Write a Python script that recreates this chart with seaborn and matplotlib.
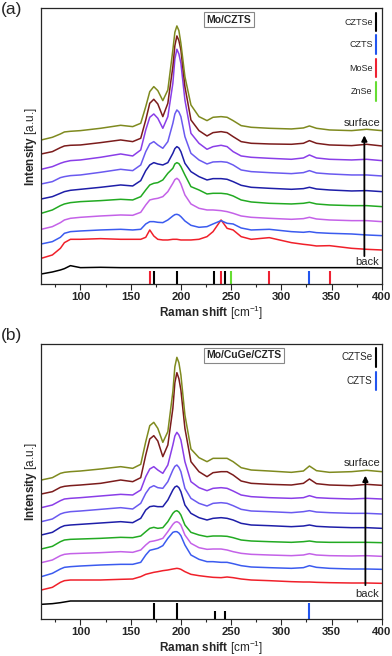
import numpy as np
import pandas as pd
import matplotlib.pyplot as plt
import seaborn as sns
from matplotlib.ticker import MultipleLocator

sns.set_style("ticks")
plt.rcParams['font.family'] = ['Liberation Sans', 'DejaVu Sans']
plt.rcParams['mathtext.fontset'] = 'custom'
plt.rcParams['mathtext.rm'] = 'Liberation Sans'
plt.rcParams['mathtext.bf'] = 'Liberation Sans:bold'

# Raman shift grid (cm-1) where the spectra were read
shift = [61, 72, 80, 84, 90, 100, 120, 140, 152, 160, 165, 169, 173, 177, 182, 187, 192, 194, 196, 198, 200,
         204, 210, 218, 226, 232, 240, 246, 252, 260, 270, 288, 310, 322, 328, 335, 348, 370, 385, 400]

scans = ['back', 's2', 's3', 's4', 's5', 's6', 's7', 's8', 's9', 'surface']
colors = ['black', '#f0202a', '#3b5bef', '#c462e8', '#22aa22', '#1e1ea8', '#6a5af0', '#8a3ee8', '#7b1c1c', '#7f8a1f']

# (a) Mo/CZTS, stacked intensities (a.u.), back -> surface
a_back = [30, 36, 42, 46, 55, 49, 50, 49, 49, 49, 49, 49, 49, 49, 49, 49, 49, 49, 49, 49, 49,
          49, 49, 49, 49, 49, 49, 49, 49, 49, 49, 49, 49, 49, 49, 49, 49, 49, 49, 48]
a_s2 = [77, 87, 107, 124, 134, 134, 136, 134, 134, 134, 140, 162, 144, 134, 132, 132, 134, 134, 134, 133, 132,
        132, 132, 134, 142, 157, 192, 167, 162, 142, 134, 139, 124, 119, 117, 114, 115, 107, 104, 102]
a_s3 = [120, 127, 140, 152, 157, 159, 162, 164, 162, 164, 180, 187, 187, 185, 184, 192, 204, 208, 209, 207, 202,
        189, 176, 170, 172, 180, 190, 182, 180, 168, 162, 164, 157, 155, 157, 154, 152, 150, 147, 145]
a_s4 = [164, 172, 184, 192, 197, 200, 204, 207, 206, 215, 237, 252, 255, 257, 262, 277, 302, 313, 317, 312, 300,
        267, 240, 227, 222, 222, 220, 217, 212, 204, 200, 197, 194, 196, 200, 195, 192, 190, 190, 187]
a_s5 = [212, 222, 235, 240, 244, 247, 250, 254, 252, 262, 282, 297, 302, 304, 312, 332, 347, 360, 364, 361, 352,
        327, 292, 282, 270, 272, 272, 270, 264, 252, 246, 242, 240, 242, 245, 240, 237, 235, 235, 232]
a_s6 = [255, 262, 272, 277, 281, 284, 290, 297, 294, 310, 340, 357, 364, 360, 357, 364, 392, 406, 412, 408, 397,
        362, 337, 322, 312, 316, 316, 314, 307, 296, 290, 287, 284, 286, 290, 285, 282, 279, 280, 277]
a_s7 = [300, 307, 319, 322, 325, 327, 335, 344, 340, 357, 397, 420, 427, 417, 407, 427, 482, 510, 522, 516, 502,
        442, 392, 372, 360, 366, 367, 365, 357, 342, 337, 334, 331, 334, 340, 333, 330, 327, 327, 324]
a_s8 = [344, 352, 362, 366, 370, 372, 380, 390, 384, 402, 462, 500, 510, 497, 467, 502, 602, 675, 704, 690, 662,
        552, 452, 422, 404, 412, 416, 412, 397, 384, 380, 377, 374, 378, 387, 378, 374, 372, 374, 370]
a_s9 = [390, 397, 409, 414, 416, 417, 424, 432, 427, 437, 492, 542, 554, 540, 502, 542, 652, 715, 744, 730, 702,
        592, 492, 460, 444, 454, 457, 454, 442, 427, 422, 420, 419, 422, 430, 422, 417, 415, 419, 414]
a_surface = [432, 440, 450, 456, 458, 460, 467, 476, 472, 482, 532, 577, 592, 580, 550, 582, 702, 755, 774, 760, 722,
             622, 537, 502, 490, 500, 502, 500, 490, 475, 470, 467, 465, 468, 474, 467, 462, 460, 464, 460]

# (b) Mo/CuGe/CZTS
b_back = [45, 47, 50, 52, 55, 55, 55, 55, 55, 55, 55, 55, 55, 55, 55, 55, 55, 55, 55, 55, 55,
          55, 55, 55, 55, 55, 55, 55, 55, 55, 55, 55, 55, 55, 55, 55, 55, 55, 55, 55]
b_s2 = [88, 96, 111, 116, 118, 118, 118, 120, 121, 128, 135, 138, 141, 143, 146, 148, 151, 152, 153, 152, 150,
        143, 135, 131, 128, 126, 125, 127, 125, 121, 118, 116, 113, 112, 112, 111, 110, 109, 109, 108]
b_s3 = [128, 138, 151, 156, 158, 160, 163, 165, 165, 171, 193, 207, 210, 213, 221, 243, 261, 263, 263, 259, 251,
        223, 193, 180, 173, 173, 171, 171, 167, 161, 157, 155, 153, 155, 161, 156, 153, 151, 151, 150]
b_s4 = [170, 178, 191, 195, 197, 198, 200, 203, 201, 208, 223, 233, 235, 238, 243, 263, 285, 291, 293, 290, 283,
        253, 228, 215, 210, 211, 211, 208, 203, 198, 195, 193, 191, 193, 197, 193, 191, 190, 191, 189]
b_s5 = [211, 219, 233, 238, 240, 241, 243, 246, 245, 250, 263, 273, 276, 273, 275, 293, 318, 324, 326, 322, 313,
        283, 261, 253, 248, 250, 250, 249, 245, 238, 235, 233, 231, 233, 235, 232, 231, 231, 231, 230]
b_s6 = [253, 261, 276, 281, 283, 285, 289, 293, 290, 303, 328, 338, 340, 338, 338, 358, 388, 397, 400, 395, 383,
        343, 318, 305, 298, 303, 305, 303, 298, 288, 283, 281, 278, 280, 283, 279, 277, 275, 275, 273]
b_s7 = [293, 301, 316, 320, 323, 325, 330, 335, 331, 348, 378, 395, 401, 395, 393, 413, 448, 459, 463, 456, 443,
        393, 363, 348, 340, 348, 350, 348, 341, 330, 325, 323, 320, 323, 326, 322, 320, 318, 318, 316]
b_s8 = [335, 343, 356, 361, 363, 365, 370, 375, 373, 388, 428, 451, 458, 448, 438, 463, 523, 550, 561, 553, 538,
        473, 413, 395, 386, 393, 395, 393, 385, 373, 368, 365, 363, 365, 371, 365, 363, 361, 363, 361]
b_s9 = [376, 383, 396, 399, 401, 403, 408, 418, 413, 425, 493, 541, 551, 535, 488, 523, 633, 710, 740, 722, 688,
        573, 473, 443, 428, 440, 443, 443, 433, 415, 408, 405, 403, 408, 421, 407, 403, 401, 405, 402]
b_surface = [418, 425, 438, 441, 443, 445, 451, 458, 453, 465, 533, 581, 591, 573, 531, 563, 683, 758, 786, 770, 733,
             613, 511, 485, 473, 483, 483, 483, 473, 455, 448, 445, 441, 445, 460, 446, 441, 443, 447, 443]

# reference Raman lines
a_ref_names = ['CZTSe', 'CZTS', 'MoSe', 'ZnSe']
a_ref_colors = ['black', '#2255ee', '#ee2233', '#66dd33']
a_ref_pos = [[173, 196, 233, 244], [328], [169, 240, 288, 348], [250]]
a_ref_h = [[40, 40, 40, 40], [40], [40, 40, 40, 40], [40]]

b_ref_names = ['CZTSe', 'CZTS']
b_ref_colors = ['black', '#2255ee']
b_ref_pos = [[173, 196, 234, 244], [328]]
b_ref_h = [[48, 48, 24, 24], [48]]


def long_df(series):
    rows = []
    for name, vals in zip(scans, series):
        for x, y in zip(shift, vals):
            rows.append((name, x, y))
    return pd.DataFrame(rows, columns=['scan', 'shift', 'intensity'])


def draw(ax, series, ref_names, ref_colors, ref_pos, ref_h, title, ylim, leg_y, leg_fs, title_x,
         surf_y, back_y, arr_x, arr_y0, arr_y1):
    df = long_df(series)
    sns.lineplot(data=df, x='shift', y='intensity', hue='scan', palette=dict(zip(scans, colors)),
                 estimator=None, sort=False, legend=False, lw=1.1, ax=ax)
    for pos, h, c in zip(ref_pos, ref_h, ref_colors):
        ax.vlines(pos, 0, h, colors=c, lw=1.5)
    for name, c, y in zip(ref_names, ref_colors, leg_y):
        ax.text(0.973, y, name, transform=ax.transAxes, ha='right', va='center', fontsize=leg_fs)
        ax.plot([0.982, 0.982], [y - 0.034, y + 0.034], transform=ax.transAxes, color=c, lw=1.5)
    ax.text(title_x, 0.959, title, transform=ax.transAxes, ha='left', va='center', fontsize=7.5,
            fontweight='bold', bbox=dict(boxstyle='square,pad=0.25', fc='white', ec='#888888', lw=0.8))
    ax.text(0.941, surf_y, 'surface', transform=ax.transAxes, ha='center', va='center', fontsize=8)
    ax.text(0.958, back_y, 'back', transform=ax.transAxes, ha='center', va='center', fontsize=8)
    ax.annotate('', xy=(arr_x, arr_y1), xytext=(arr_x, arr_y0), xycoords='axes fraction',
                arrowprops=dict(arrowstyle='-|>', color='black', lw=1.3, mutation_scale=8))
    ax.set_xlim(61, 400)
    ax.set_ylim(*ylim)
    ax.set_xticks([100, 150, 200, 250, 300, 350, 400])
    ax.xaxis.set_minor_locator(MultipleLocator(25))
    ax.set_yticks([])
    ax.tick_params(axis='x', which='major', direction='out', length=4, width=0.8, labelsize=8.2, pad=1.5)
    ax.tick_params(axis='x', which='minor', direction='out', length=2.2, width=0.8)
    for lab in ax.get_xticklabels():
        lab.set_fontweight('bold')
    for s in ax.spines.values():
        s.set_linewidth(0.9)
    ax.set_xlabel(r'$\mathbf{Raman\ shift}$ [cm$^{-1}$]', fontsize=8.5, labelpad=1.5)
    ax.set_ylabel(r'$\mathbf{Intensity}$ [a.u.]', fontsize=8.5, labelpad=2)


fig = plt.figure(figsize=(3.92, 6.56), dpi=100)
ax_a = fig.add_axes([0.1054, 0.5671, 0.8684, 0.4203])
ax_b = fig.add_axes([0.1054, 0.0559, 0.8684, 0.4197])

draw(ax_a, [a_back, a_s2, a_s3, a_s4, a_s5, a_s6, a_s7, a_s8, a_s9, a_surface],
     a_ref_names, a_ref_colors, a_ref_pos, a_ref_h, 'Mo/CZTS', (0, 827),
     [0.950, 0.869, 0.783, 0.698], 6.5, 0.485, 0.585, 0.080, 0.949, 0.091, 0.549)
draw(ax_b, [b_back, b_s2, b_s3, b_s4, b_s5, b_s6, b_s7, b_s8, b_s9, b_surface],
     b_ref_names, b_ref_colors, b_ref_pos, b_ref_h, 'Mo/CuGe/CZTS', (0, 826),
     [0.951, 0.866], 7.1, 0.485, 0.569, 0.092, 0.952, 0.114, 0.532)

fig.text(0.029, 0.9855, '(a)', ha='center', va='center', fontsize=12.5)
fig.text(0.029, 0.4886, '(b)', ha='center', va='center', fontsize=12.5)

fig.savefig('out.png', dpi=100)
